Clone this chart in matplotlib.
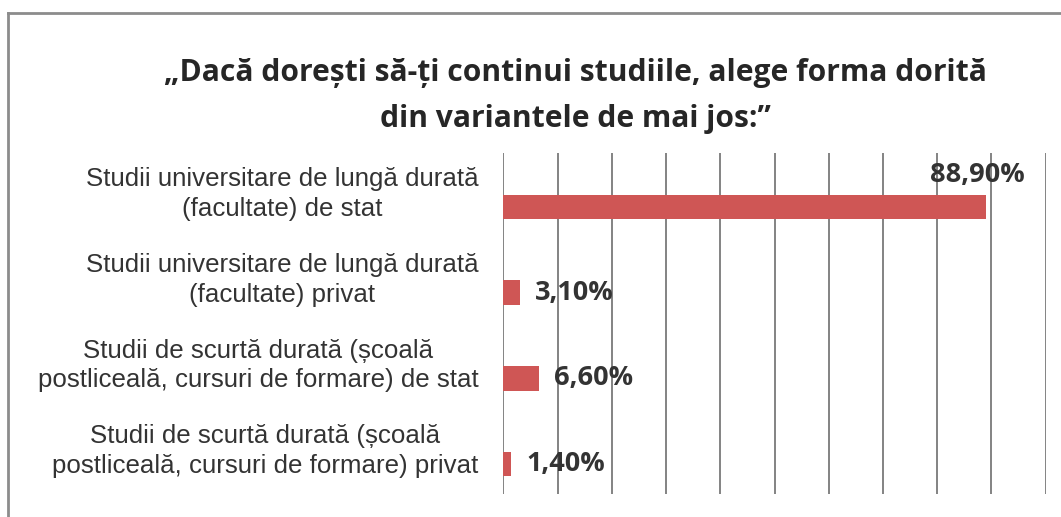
import matplotlib.pyplot as plt
from matplotlib.lines import Line2D

# data
categories = [
    'Studii universitare de lungă durată\n(facultate) de stat',
    'Studii universitare de lungă durată\n(facultate) privat',
    'Studii de scurtă durată (școală\npostliceală, cursuri de formare) de stat',
    'Studii de scurtă durată (școală\npostliceală, cursuri de formare) privat',
]
values = [88.9, 3.1, 6.6, 1.4]
value_labels = ['88,90%', '3,10%', '6,60%', '1,40%']
title = '„Dacă dorești să-ți continui studiile, alege forma dorită\ndin variantele de mai jos:”'

bar_color = '#CF5655'
text_color = '#333333'

fig = plt.figure(figsize=(10.61, 5.17), dpi=100)
ax = fig.add_axes([0.4744, 0.0445, 0.9856 - 0.4744, 0.7041 - 0.0445])

y = list(range(len(categories)))
ax.barh(y, values, height=0.286, color=bar_color, zorder=3)

ax.set_xlim(0, 100)
ax.set_ylim(3.35, -0.63)
ax.set_xticks(range(0, 101, 10))
ax.xaxis.grid(True, color='#7a7a7a', linewidth=1.3, zorder=0)
ax.tick_params(axis='both', length=0, labelbottom=False, labelleft=False)
for s in ax.spines.values():
    s.set_visible(False)

# category labels, sitting a little above the bar centre
for i, lab in enumerate(categories):
    ax.text(-0.046, i - 0.15, lab, transform=ax.get_yaxis_transform(),
            ha='right', va='center', multialignment='center',
            fontsize=18.6, family='Liberation Sans', color=text_color,
            linespacing=1.29)

# value labels
for i, (v, lab) in enumerate(zip(values, value_labels)):
    if v > 50:
        ax.annotate(lab, (v, i), xytext=(-6, 23), textcoords='offset points',
                    ha='center', va='center', fontsize=19.5, fontweight='bold',
                    family='Open Sans', color=text_color, zorder=4)
    else:
        ax.annotate(lab, (v, i), xytext=(11, 0), textcoords='offset points',
                    ha='left', va='center', fontsize=19.5, fontweight='bold',
                    family='Open Sans', color=text_color, zorder=4)

fig.text(575 / 1061, 1 - 96 / 517, title, ha='center', va='center',
         fontsize=21.6, fontweight='bold', family='Open Sans', color='#262626',
         linespacing=1.68)

# chart frame (only left and top edges are visible in the scan)
fx, fy = 8 / 1061, 1 - 13 / 517
fig.add_artist(Line2D([fx, fx], [0, fy], transform=fig.transFigure, color='#8c8c8c', linewidth=2))
fig.add_artist(Line2D([fx, 1], [fy, fy], transform=fig.transFigure, color='#8c8c8c', linewidth=2))

fig.savefig('out.png', dpi=100)
